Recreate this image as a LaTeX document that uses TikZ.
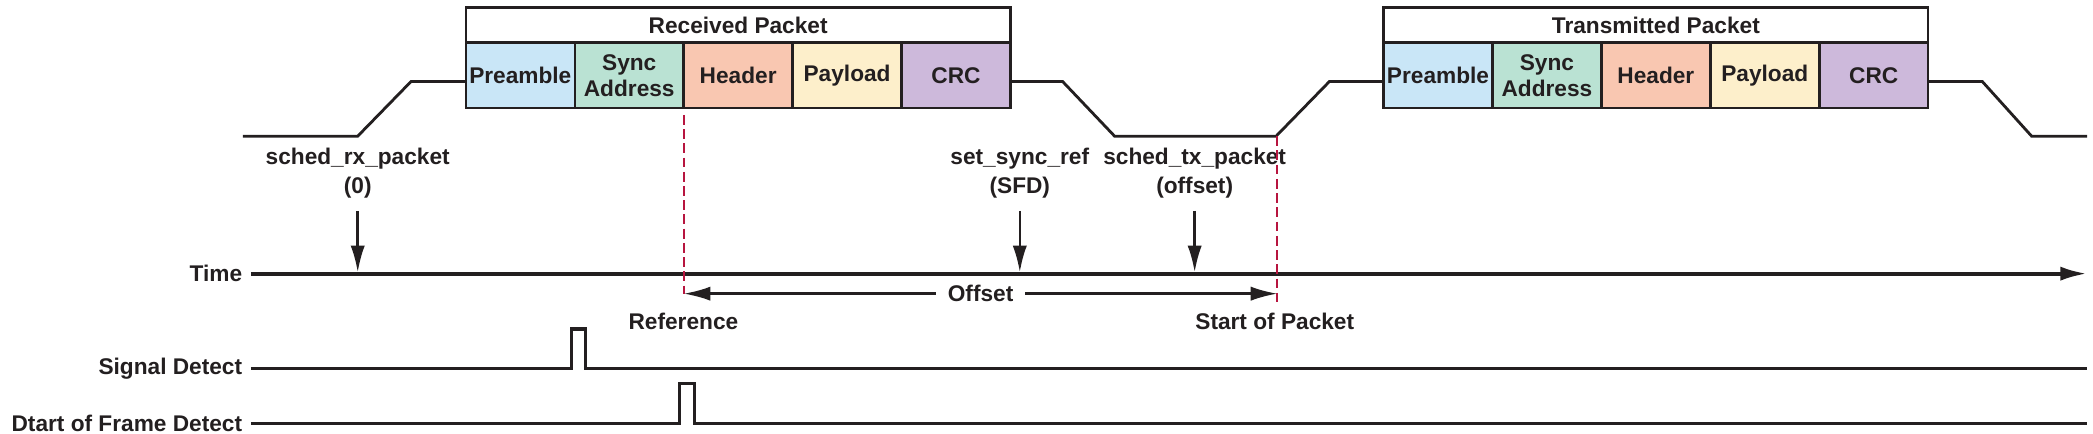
\documentclass[tikz,border=0pt]{standalone}
\usepackage{fontspec}
\setmainfont{Liberation Sans}
\usepackage{xcolor}
\usepackage{tikz}
\usetikzlibrary{arrows.meta, positioning}

\definecolor{inkc}{HTML}{231F20}
\definecolor{prefill}{HTML}{C9E6F7}
\definecolor{syncfill}{HTML}{BAE2D3}
\definecolor{hdrfill}{HTML}{F9C7B1}
\definecolor{payfill}{HTML}{FDEFCB}
\definecolor{crcfill}{HTML}{CDB9DB}
\definecolor{refred}{HTML}{B7153F}

\tikzset{
    lbl/.style={font=\bfseries\fontsize{14.5}{18.7}\selectfont, text=inkc, align=center, inner sep=0.1cm},
    field/.style={draw=inkc, line width=1.6pt, outer sep=0pt, inner sep=0pt,
        minimum width=2.448cm, minimum height=1.47cm, align=center,
        font=\bfseries\fontsize{14.5}{16.6}\selectfont, text=inkc},
    pkttitle/.style={field, fill=white, minimum width=12.24cm, minimum height=0.795cm},
    wave/.style={draw=inkc, line width=1.8pt},
    axis/.style={draw=inkc, line width=2.4pt},
    sigline/.style={draw=inkc, line width=2pt},
    pointer/.style={draw=inkc, line width=1.6pt},
    refline/.style={draw=refred, line width=1.3pt, dash pattern=on 0.22cm off 0.1cm}
}

\begin{document}
\begin{tikzpicture}[x=0.03cm, y=-0.03cm, >={Latex[length=0.6cm, width=0.32cm]}]
    \useasboundingbox (0,0) rectangle (1568,325);

    % 1. Khung goi tin
    \foreach \pk/\xo/\ttl in {rx/349/Received Packet, tx/1036.5/Transmitted Packet} {
        \foreach \txt/\col [count=\i] in {Preamble/prefill, {Sync\\Address}/syncfill, Header/hdrfill, Payload/payfill, CRC/crcfill} {
            \node[field, fill=\col] (\pk\i) at ({\xo+(\i-0.5)*81.6}, 56.5) {\txt};
        }
        \node[pkttitle, above=0pt of \pk3] (\pk-title) {\ttl};
    }

    % 2. Dang song
    \draw[wave] (182,102) -- (268,102) -- (308,61) -- (rx1.west |- 0,61);
    \draw[wave] (rx5.east |- 0,61) -- (796,61) -- (835,102) -- (956,102) -- (996,61) -- (tx1.west |- 0,61);
    \draw[wave] (tx5.east |- 0,61) -- (1485,61) -- (1522,102) -- (1563.5,102);

    % 3. Truc thoi gian
    \node[lbl, anchor=east, inner xsep=0.19cm] (timelbl) at (188,205) {Time};
    \draw[axis, ->] (timelbl.east) -- (1563.5,205);

    % 4. Cac lenh
    \node[lbl] (rxcmd) at (268,129.5) {sched\_rx\_packet\\(0)};
    \node[lbl] (synccmd) at (764,129.5) {set\_sync\_ref\\(SFD)};
    \node[lbl] (txcmd) at (895,129.5) {sched\_tx\_packet\\(offset)};
    \foreach \c in {rxcmd, synccmd, txcmd}
        \draw[pointer, ->] (\c.south |- 0,158) -- (\c.south |- 0,204);

    % 5. Moc tham chieu
    \coordinate (ref) at (rx3.south west |- 0,220);
    \coordinate (sop) at (957,220);
    \draw[refline] ([yshift=-0.15cm]rx3.south west) -- (ref);
    \draw[refline] (957,102) -- (957,226);
    \draw[pointer, <->] (ref) -- node[lbl, fill=white, inner xsep=0.27cm] (offlbl) {Offset} (sop);
    \node[lbl] (reflbl) at (512,241) {Reference};
    \node[lbl] (soplbl) at (955,241) {Start of Packet};

    % 6. Tin hieu phat hien
    \node[lbl, anchor=east, inner xsep=0.19cm] (sdlbl) at (188,276) {Signal Detect};
    \draw[sigline] (sdlbl.east) -- (428,276) -- (428,246.5) -- (438.6,246.5) -- (438.6,276) -- (1563.5,276);
    \node[lbl, anchor=east, inner xsep=0.19cm] (sfdlbl) at (188,317) {Dtart of Frame Detect};
    \draw[sigline] (sfdlbl.east) -- (509,317) -- (509,287) -- (520,287) -- (520,317) -- (1563.5,317);
\end{tikzpicture}
\end{document}
